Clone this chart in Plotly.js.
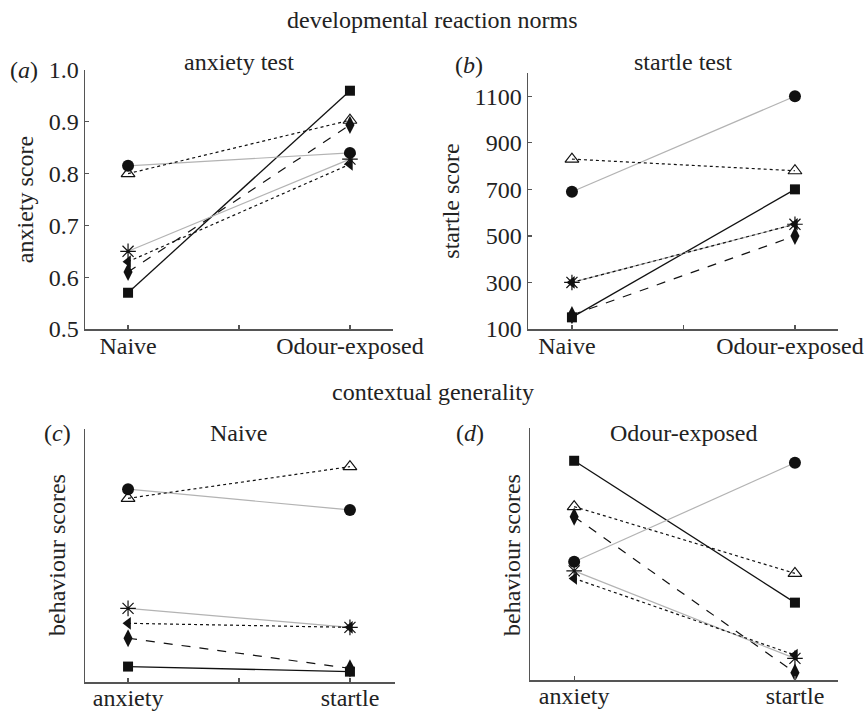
<!DOCTYPE html>
<html>
<head>
<meta charset="utf-8">
<script src="https://cdn.plot.ly/plotly-3.0.1.min.js"></script>
<style>html,body{margin:0;padding:0;background:#fff;}#chart{width:865px;height:713px;}</style>
</head>
<body>
<div id="chart"></div>
<script>
// ---- data ----
const conditions = ['Naive', 'Odour-exposed'];
const tests = ['anxiety', 'startle'];
// individuals (marker order): square, circle, open triangle, diamond, asterisk, left triangle
const individuals = ['square', 'circle', 'triangle', 'diamond', 'asterisk', 'lefttriangle'];

// (a) anxiety score by rearing condition
const anxietyNaive = [0.57, 0.815, 0.80, 0.61, 0.65, 0.63];
const anxietyOdour = [0.96, 0.84, 0.903, 0.894, 0.828, 0.818];
// (b) startle score by rearing condition
const startleNaive = [150, 690, 830, 160, 300, 300];
const startleOdour = [700, 1100, 780, 500, 550, 550];
// (c) Naive: behaviour scores (relative units) by test
const naiveAnxiety = [6.1, 76.2, 72.6, 17.3, 29.1, 23.2];
const naiveStartle = [4.1, 68.0, 85.1, 5.4, 21.6, 21.6];
// (d) Odour-exposed: behaviour scores (relative units) by test
const odourAnxiety = [87.0, 46.9, 68.8, 64.8, 43.3, 40.3];
const odourStartle = [30.7, 86.2, 42.3, 2.9, 8.6, 9.9];

const anxietyTicks = [0.5, 0.6, 0.7, 0.8, 0.9, 1.0];
const startleTicks = [100, 300, 500, 700, 900, 1100];

// ---- styles ----
const FONT = 'Liberation Serif, Times New Roman, serif';
const FS = 24;
const TXT = '#222';
const styles = {
  square:       {symbol: 'square', size: 10, line: {color: '#111', width: 1.3, dash: 'solid'}},
  circle:       {symbol: 'circle', size: 12, line: {color: '#b3b3b3', width: 1.2, dash: 'solid'}},
  triangle:     {symbol: 'triangle-up-open', size: 12, line: {color: '#111', width: 1.2, dash: 'dot'}},
  diamond:      {symbol: 'diamond-tall', size: 13, line: {color: '#111', width: 1.2, dash: 'dash'}},
  asterisk:     {symbol: 'asterisk-open', size: 13, line: {color: '#b3b3b3', width: 1.2, dash: 'solid'}},
  lefttriangle: {symbol: 'triangle-left', size: 11, line: {color: '#111', width: 1.2, dash: 'dot'}}
};

const xpos = conditions.map((_, i) => i + 1);

function panelTraces(first, second, xa, ya) {
  return individuals.map((id, k) => {
    const s = styles[id];
    return {
      type: 'scatter', mode: 'lines+markers',
      x: xpos, y: [first[k], second[k]],
      xaxis: xa, yaxis: ya, cliponaxis: false, showlegend: false,
      line: {color: s.line.color, width: s.line.width, dash: s.line.dash},
      marker: {symbol: s.symbol, size: s.size, color: '#111',
               line: {color: '#111', width: s.symbol.indexOf('open') >= 0 ? 1.2 : 0}},
      hoverinfo: 'y'
    };
  });
}

const traces = [].concat(
  panelTraces(anxietyNaive, anxietyOdour, 'x', 'y'),
  panelTraces(startleNaive, startleOdour, 'x2', 'y2'),
  panelTraces(naiveAnxiety, naiveStartle, 'x3', 'y3'),
  panelTraces(odourAnxiety, odourStartle, 'x4', 'y4')
);

const axBase = {
  showline: true, linecolor: '#555', linewidth: 1.5, showgrid: false, zeroline: false,
  ticks: 'inside', ticklen: 4, tickcolor: '#555', tickwidth: 1.2,
  tickfont: {family: FONT, size: FS, color: TXT}
};
function ax(extra) { return Object.assign({}, axBase, extra); }

const W = 865, H = 713;
const dx = (a, b) => [a / W, b / W];
const dy = (top, bot) => [1 - bot / H, 1 - top / H];

const layout = {
  width: W, height: H,
  margin: {l: 0, r: 0, t: 0, b: 0},
  paper_bgcolor: '#fff', plot_bgcolor: 'rgba(0,0,0,0)',
  font: {family: FONT, size: FS, color: TXT},
  showlegend: false,
  xaxis: ax({domain: dx(85, 393), anchor: 'y', range: [0.806, 2.194], ticklabelstandoff: -5,
    tickmode: 'array', tickvals: [1, 1.5, 2], ticktext: [conditions[0], '', conditions[1]]}),
  yaxis: ax({domain: dy(70, 329), anchor: 'x', range: [0.5, 1.0],
    tickmode: 'array', tickvals: anxietyTicks, ticktext: anxietyTicks.map(v => v.toFixed(1)),
    title: {text: 'anxiety score', font: {family: FONT, size: FS, color: TXT}, standoff: 8}}),
  xaxis2: ax({domain: dx(528, 838), anchor: 'y2', range: [0.803, 2.193], ticklabelstandoff: -5,
    ticklabeloverflow: 'allow', ticklabelshift: -5,
    tickmode: 'array', tickvals: [1, 1.5, 2], ticktext: [conditions[0], '', conditions[1]]}),
  yaxis2: ax({domain: dy(73, 329), anchor: 'x2', range: [100, 1200],
    tickmode: 'array', tickvals: startleTicks, ticktext: startleTicks.map(String),
    title: {text: 'startle score', font: {family: FONT, size: FS, color: TXT}, standoff: 8}}),
  xaxis3: ax({domain: dx(85, 395), anchor: 'y3', range: [0.806, 2.203], ticklabelstandoff: -6,
    tickmode: 'array', tickvals: [1, 1.5, 2], ticktext: [tests[0], '', tests[1]]}),
  yaxis3: ax({domain: dy(429, 682), anchor: 'x3', range: [0, 100], ticks: '', showticklabels: false}),
  xaxis4: ax({domain: dx(530, 838), anchor: 'y4', range: [0.80, 2.195], ticklabelstandoff: -6,
    tickmode: 'array', tickvals: [1, 2], ticktext: tests}),
  yaxis4: ax({domain: dy(428, 680), anchor: 'x4', range: [0, 100], ticks: '', showticklabels: false}),
  annotations: [
    {text: 'developmental reaction norms', x: 0.5, y: 1 - 20 / H},
    {text: 'contextual generality', x: 0.5, y: 1 - 392 / H},
    {text: 'anxiety test', x: 239 / W, y: 1 - 62 / H},
    {text: 'startle test', x: 683 / W, y: 1 - 62 / H},
    {text: 'Naive', x: 239 / W, y: 1 - 433 / H},
    {text: 'Odour-exposed', x: 683 / W, y: 1 - 433 / H},
    {text: '(<i>a</i>)', x: 24 / W, y: 1 - 70 / H},
    {text: '(<i>b</i>)', x: 469 / W, y: 1 - 65 / H},
    {text: '(<i>c</i>)', x: 58 / W, y: 1 - 433 / H},
    {text: '(<i>d</i>)', x: 470 / W, y: 1 - 433 / H},
    {text: 'behaviour scores', x: 57 / W, y: 1 - 555 / H, textangle: -90},
    {text: 'behaviour scores', x: 512 / W, y: 1 - 555 / H, textangle: -90}
  ].map(a => Object.assign({xref: 'paper', yref: 'paper', showarrow: false,
    xanchor: 'center', yanchor: 'middle', font: {family: FONT, size: FS, color: TXT}}, a))
};

Plotly.newPlot('chart', traces, layout, {displayModeBar: false, staticPlot: true});
</script>
</body>
</html>
